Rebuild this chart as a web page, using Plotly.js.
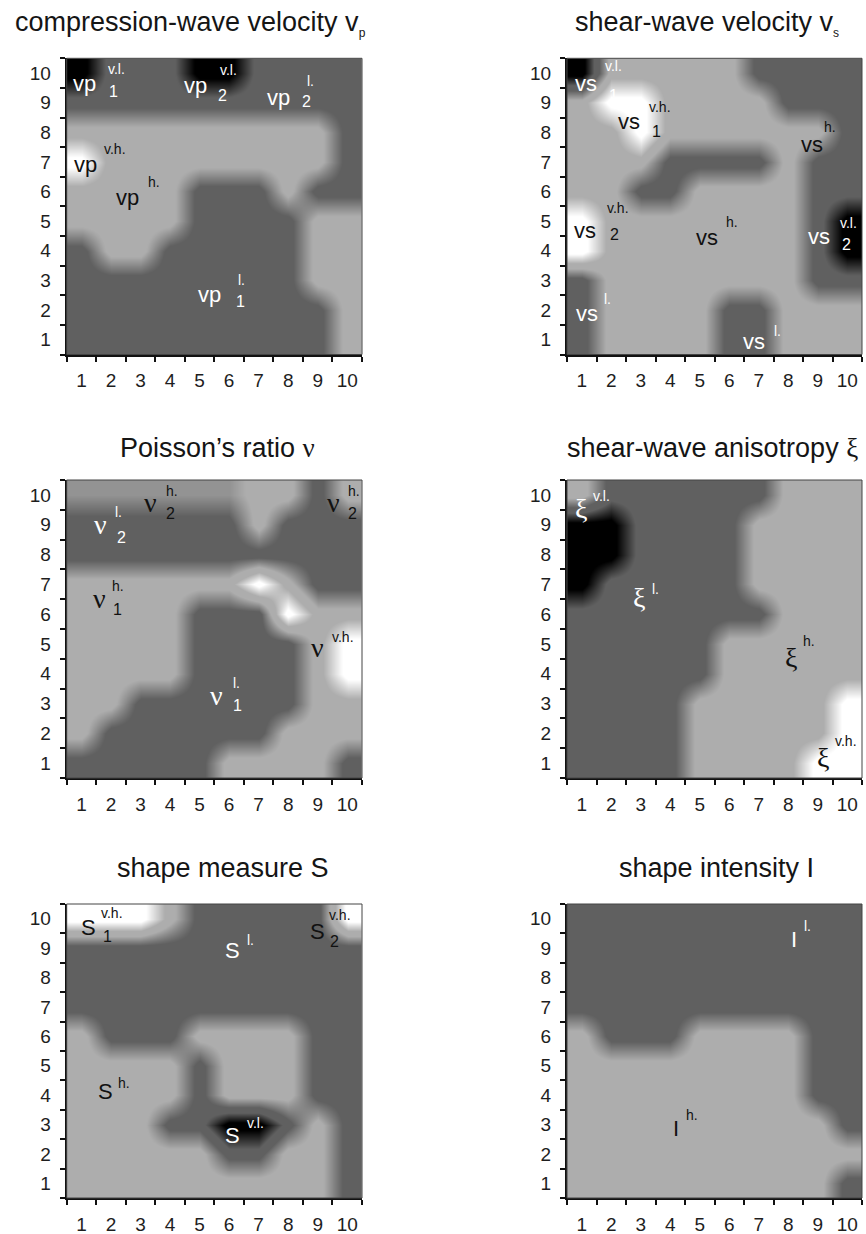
<!DOCTYPE html>
<html><head><meta charset="utf-8">
<script src="https://cdn.plot.ly/plotly-3.0.1.min.js"></script>
<style>html,body{margin:0;padding:0;background:#fff}#chart{width:866px;height:1234px}</style>
</head><body><div id="chart"></div>
<script>
// ---------- data ----------
const cells = [1,2,3,4,5,6,7,8,9,10];
const tickLabels = cells.map(String);
const boundaries = [0.5].concat(cells.map(c => c + 0.5));
// class levels: 0 very low, 1 low, 2 high, 3 very high
const B = 0, D = 1, L = 2, W = 3, M = 1.6;

// rows from top (10) to bottom (1), columns 1..10
const vpLevels = [
  [B,D,D,D,B,B,D,D,D,D],
  [D,D,D,D,D,D,D,D,D,D],
  [L,L,L,L,L,L,L,L,L,D],
  [W,L,L,L,L,L,L,L,L,D],
  [L,L,L,L,D,D,D,L,D,D],
  [L,L,L,L,D,D,D,D,L,L],
  [D,L,L,D,D,D,D,D,L,L],
  [D,D,D,D,D,D,D,D,L,L],
  [D,D,D,D,D,D,D,D,D,L],
  [D,D,D,D,D,D,D,D,D,L]];
const vsLevels = [
  [B,L,L,L,L,L,D,D,D,D],
  [L,W,W,L,L,L,L,D,D,D],
  [L,L,W,L,L,L,L,L,L,D],
  [L,L,L,D,D,D,D,L,D,D],
  [L,L,D,D,L,L,L,L,D,D],
  [W,L,L,L,L,L,L,L,D,B],
  [W,L,L,L,L,L,L,L,D,B],
  [D,L,L,L,L,L,L,L,D,D],
  [D,L,L,L,L,D,D,L,L,L],
  [D,L,L,L,L,D,D,L,L,L]];
const nuLevels = [
  [M,M,M,M,M,M,L,L,D,L],
  [D,D,D,D,D,D,L,D,D,D],
  [D,D,D,D,D,D,D,D,D,D],
  [L,L,L,L,L,L,W,L,D,D],
  [L,L,L,L,D,D,D,W,L,L],
  [L,L,L,L,D,D,D,D,L,W],
  [L,L,L,L,D,D,D,D,L,W],
  [L,L,D,D,D,D,D,D,L,L],
  [L,D,D,D,D,D,D,L,L,L],
  [D,D,D,D,D,L,L,L,L,D]];
const xiLevels = [
  [L,D,D,D,D,D,D,L,L,L],
  [B,B,D,D,D,D,L,L,L,L],
  [B,B,D,D,D,D,L,L,L,L],
  [B,D,D,D,D,D,L,L,L,L],
  [D,D,D,D,D,D,D,L,L,L],
  [D,D,D,D,D,L,L,L,L,L],
  [D,D,D,D,D,L,L,L,L,L],
  [D,D,D,D,L,L,L,L,L,W],
  [D,D,D,D,L,L,L,L,L,W],
  [D,D,D,D,L,L,L,L,W,W]];
const sLevels = [
  [W,W,W,L,D,D,D,D,D,W],
  [D,D,D,D,D,D,D,D,D,D],
  [D,D,D,D,D,D,D,D,D,D],
  [D,D,D,D,D,D,D,D,D,D],
  [L,D,D,D,L,L,L,L,D,D],
  [L,L,L,L,D,L,L,L,D,D],
  [L,L,L,L,D,L,L,L,D,D],
  [L,L,L,D,D,B,B,D,L,D],
  [L,L,L,L,L,D,D,L,L,D],
  [L,L,L,L,L,L,L,L,L,D]];
const iLevels = [
  [D,D,D,D,D,D,D,D,D,D],
  [D,D,D,D,D,D,D,D,D,D],
  [D,D,D,D,D,D,D,D,D,D],
  [D,D,D,D,D,D,D,D,D,D],
  [L,D,D,D,L,L,L,L,D,D],
  [L,L,L,L,L,L,L,L,D,D],
  [L,L,L,L,L,L,L,L,D,D],
  [L,L,L,L,L,L,L,L,L,D],
  [L,L,L,L,L,L,L,L,L,L],
  [L,L,L,L,L,L,L,L,L,D]];

const panelTitles = [
  'compression-wave velocity v<sub><span style="font-size:12px;color:#151515">p</span></sub>',
  'shear-wave velocity v<sub><span style="font-size:12px;color:#151515">s</span></sub>',
  'Poisson’s ratio <span style="font-family:Liberation Serif">ν</span>',
  'shear-wave anisotropy <span style="font-family:Liberation Serif">ξ</span>',
  'shape measure S',
  'shape intensity I'];
const panelLevels = [vpLevels, vsLevels, nuLevels, xiLevels, sLevels, iLevels];

// region labels: [panel, x, y, symbol, colour, sup, supX, supY, sub, subX, subY]
const WH = '#ffffff', BK = '#111111';
const regionLabels = [
  [1,1.10,9.64,'vp',WH,'v.l.',1.84,10.15,'1',1.86,9.37],
  [1,4.87,9.59,'vp',WH,'v.l.',5.61,10.09,'2',5.56,9.26],
  [1,7.68,9.19,'vp',WH,'l.',8.57,9.72,'2',8.40,9.05],
  [1,1.15,6.92,'vp',BK,'v.h.',1.69,7.45],
  [1,2.57,5.79,'vp',BK,'h.',3.17,6.32],
  [1,5.35,2.53,'vp',WH,'l.',6.24,3.02,'1',6.18,2.29],
  [2,1.14,9.64,'vs',WH,'v.l.',1.73,10.24,'1',1.85,9.25],
  [2,2.59,8.38,'vs',BK,'v.h.',3.21,8.85,'1',3.30,8.03],
  [2,8.82,7.59,'vs',BK,'h.',9.16,8.18],
  [2,1.12,4.69,'vs',BK,'v.h.',1.79,5.44,'2',1.90,4.54],
  [2,5.25,4.44,'vs',BK,'h.',5.82,4.97],
  [2,9.05,4.50,'vs',WH,'v.l.',9.67,4.95,'2',9.76,4.20],
  [2,1.19,1.87,'vs',WH,'l.',1.68,2.38],
  [2,6.84,0.95,'vs',WH,'l.',7.46,1.31],
  [3,1.63,9.00,'ν',WH,'l.',2.06,9.42,'2',2.12,8.58],
  [3,3.35,9.75,'ν',BK,'h.',3.80,10.14,'2',3.80,9.36],
  [3,9.52,9.75,'ν',BK,'h.',9.97,10.14,'2',9.97,9.36],
  [3,1.61,6.54,'ν',BK,'h.',1.95,6.95,'1',2.00,6.17],
  [3,8.98,4.89,'ν',BK,'v.h.',9.41,5.22],
  [3,5.56,3.26,'ν',WH,'l.',6.05,3.68,'1',6.05,2.93],
  [4,0.96,9.53,'ξ',WH,'v.l.',1.30,9.97],
  [4,2.95,6.56,'ξ',WH,'l.',3.32,6.84],
  [4,8.09,4.55,'ξ',BK,'h.',8.43,5.11],
  [4,9.19,1.20,'ξ',BK,'v.h.',9.52,1.75],
  [5,1.25,9.71,'S',BK,'v.h.',1.61,10.19,'1',1.67,9.40],
  [5,8.98,9.57,'S',BK,'v.h.',9.30,10.14,'2',9.36,9.23],
  [5,6.12,8.92,'S',WH,'l.',6.55,9.28],
  [5,1.80,4.11,'S',BK,'h.',2.17,4.41],
  [5,6.12,2.63,'S',WH,'v.l.',6.53,3.05],
  [6,8.20,9.29,'I',WH,'l.',8.46,9.74],
  [6,4.21,2.88,'I',BK,'h.',4.47,3.33]];

// ---------- layout geometry (pixels) ----------
const W_PX = 866, H_PX = 1234;
const colPx = [[66.7, 362], [567, 862]];
const rowPx = [[58.3, 354.5], [480, 778], [904, 1198]];
const titlePx = [[190, 24], [707, 24], [217.5, 448], [712, 448], [222.5, 868], [716, 868]];

const grayScale = [[0,'#000000'],[0.06,'#000000'],[0.2733,'#606060'],[0.3933,'#606060'],
  [0.6067,'#adadad'],[0.7267,'#adadad'],[0.94,'#ffffff'],[1,'#ffffff']];

const traces = [], annotations = [], shapes = [];
const layout = {width: W_PX, height: H_PX, margin:{l:0,r:0,t:0,b:0},
  paper_bgcolor:'#ffffff', plot_bgcolor:'#ffffff', showlegend:false};
const tickFont = {family:'Liberation Sans, Arial, sans-serif', size:19, color:'#1e1e1e'};

for (let p = 0; p < 6; p++) {
  const i = p + 1, col = p % 2, row = Math.floor(p / 2);
  const xd = [colPx[col][0] / W_PX, colPx[col][1] / W_PX];
  const yd = [1 - rowPx[row][1] / H_PX, 1 - rowPx[row][0] / H_PX];
  const sx = i === 1 ? '' : String(i);
  const common = {range:[0.5,10.5], tickmode:'array', tickvals:cells, ticktext:tickLabels,
    ticks:'outside', tickcolor:'rgba(0,0,0,0)', showline:true, linecolor:'#111', linewidth:2,
    showgrid:false, zeroline:false, tickfont:tickFont, fixedrange:true,
    minor:{tickmode:'array', tickvals:boundaries, ticks:'outside', ticklen:5, tickwidth:2, tickcolor:'#111', showgrid:false}};
  layout['xaxis' + sx] = Object.assign({}, common, {domain:xd, anchor:'y' + sx, ticklen:8});
  layout['yaxis' + sx] = Object.assign({}, common, {domain:yd, anchor:'x' + sx, ticklen:10});
  traces.push({type:'heatmap', x:cells, y:cells, z:panelLevels[p].slice().reverse(),
    zmin:0, zmax:3, colorscale:grayScale, showscale:false, zsmooth:'best',
    xaxis:'x' + sx, yaxis:'y' + sx, hoverinfo:'skip'});
  shapes.push({type:'rect', xref:'x' + sx + ' domain', yref:'y' + sx + ' domain', x0:0, x1:1, y0:0, y1:1,
    line:{color:'#444', width:1}, layer:'above'});
  annotations.push({xref:'paper', yref:'paper', x:titlePx[p][0] / W_PX, y:1 - titlePx[p][1] / H_PX,
    xanchor:'center', yanchor:'middle', showarrow:false, text:panelTitles[p],
    font:{family:'Liberation Sans, Arial, sans-serif', size:27, color:'#151515'}});
}

regionLabels.forEach(r => {
  const sx = r[0] === 1 ? '' : String(r[0]);
  const greek = (r[3] === 'ν' || r[3] === 'ξ');
  annotations.push({xref:'x' + sx, yref:'y' + sx, x:r[1], y:r[2], text:r[3], showarrow:false,
    xanchor:'center', yanchor:'middle',
    font:{family: greek ? 'Liberation Serif, serif' : 'Liberation Sans, Arial, sans-serif', size: greek ? 28 : 22, color:r[4]}});
  if (r[5]) annotations.push({xref:'x' + sx, yref:'y' + sx, x:r[6], y:r[7], text:r[5], showarrow:false,
    xanchor:'left', yanchor:'middle', font:{family:'Liberation Sans, Arial, sans-serif', size:14, color:r[4]}});
  if (r[8]) annotations.push({xref:'x' + sx, yref:'y' + sx, x:r[9], y:r[10], text:r[8], showarrow:false,
    xanchor:'left', yanchor:'middle', font:{family:'Liberation Sans, Arial, sans-serif', size:16, color:r[4]}});
});

layout.annotations = annotations;
layout.shapes = shapes;
Plotly.newPlot('chart', traces, layout, {staticPlot:true, displayModeBar:false});
</script></body></html>
